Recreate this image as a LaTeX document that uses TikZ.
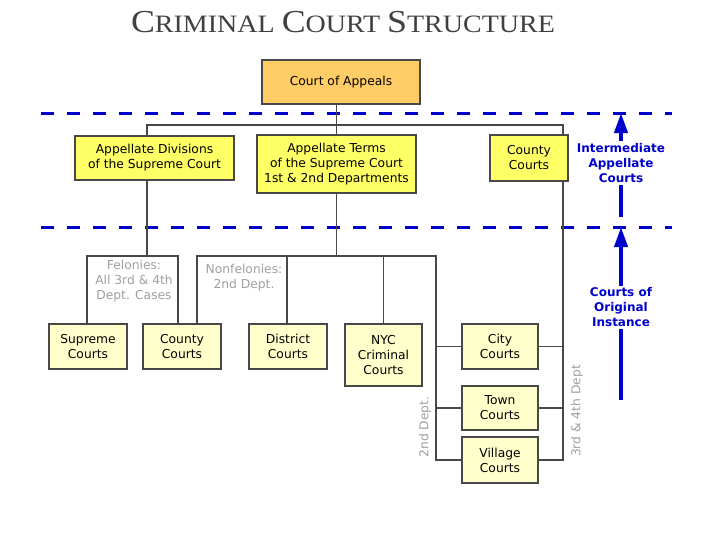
\documentclass[tikz,border=0pt]{standalone}
\usepackage{fontspec}
\setmainfont{DejaVu Sans}
\newfontfamily\titlefont{Liberation Serif}
\usetikzlibrary{arrows.meta}
\definecolor{orangebox}{HTML}{FFCC66}
\definecolor{yellowbox}{HTML}{FFFF66}
\definecolor{paleyellow}{HTML}{FFFFCC}
\definecolor{darkblue}{HTML}{0000CC}
\definecolor{linegray}{HTML}{484848}
\definecolor{labelgray}{HTML}{A0A0A0}
\tikzset{
  box/.style={draw=linegray, line width=1.3pt, align=center, inner sep=0pt,
    font=\fontsize{12.3}{15}\selectfont},
  upperbox/.style={box, fill=yellowbox},
  lowerbox/.style={box, fill=paleyellow},
  link/.style={draw=linegray, line width=1.3pt},
  dashline/.style={draw=darkblue, line width=3pt, dash pattern=on 13pt off 13pt},
  bluearrow/.style={draw=darkblue, line width=4pt, -{Triangle[width=13pt,length=20pt]}},
  bluelabel/.style={text=darkblue, font=\bfseries\fontsize{12}{15}\selectfont, align=center, fill=white, inner sep=2pt},
  graylabel/.style={text=labelgray, font=\fontsize{12.3}{15}\selectfont, align=center, inner sep=0pt}
}
\begin{document}
\begin{tikzpicture}[x=1pt,y=-1pt]
\useasboundingbox[fill=white] (0,0) rectangle (702,536);

% title
\node[text=black!75] (title) at (343,22) {\scalebox{1.12}[1]{\titlefont\fontsize{32}{32}\selectfont C\fontsize{25}{25}\selectfont RIMINAL \fontsize{32}{32}\selectfont C\fontsize{25}{25}\selectfont OURT \fontsize{32}{32}\selectfont S\fontsize{25}{25}\selectfont TRUCTURE}};

% dashed level lines
\coordinate (d1l) at (41,113); \coordinate (d1r) at (672,113);
\coordinate (d2l) at (41,227); \coordinate (d2r) at (672,227);
\draw[dashline] (d1l) -- (d1r);
\draw[dashline] (d2l) -- (d2r);

% junction coordinates
\coordinate (hj) at (563,125);
\coordinate (adt) at (147,125);
\coordinate (adb) at (147,256);
\coordinate (fl) at (87,256);
\coordinate (fr) at (178,256);
\coordinate (nl) at (197,256);
\coordinate (nr) at (436,256);

% node positions (boxes drawn after connectors)
\path (341,82) coordinate (ca)
      (336.5,164) coordinate (at)
      (154.5,158) coordinate (ad)
      (529,158) coordinate (cc1)
      (88,346.5) coordinate (sc)
      (182,346.5) coordinate (cc2)
      (288,346.5) coordinate (dc)
      (383.5,355) coordinate (nyc)
      (500,346.5) coordinate (city)
      (500,408) coordinate (town)
      (500,460) coordinate (village);

% boxes
\node[box, fill=orangebox, minimum width=158pt, minimum height=44pt] (ca) at (ca) {Court of Appeals};
\node[upperbox, minimum width=159pt, minimum height=58pt] (at) at (at) {Appellate Terms\\of the Supreme Court\\1st \& 2nd Departments};
\node[upperbox, minimum width=159pt, minimum height=44pt] (ad) at (ad) {Appellate Divisions\\of the Supreme Court};
\node[lowerbox, minimum width=78pt, minimum height=45pt] (sc) at (sc) {Supreme\\Courts};
\node[lowerbox, minimum width=78pt, minimum height=45pt] (cc2) at (cc2) {County\\Courts};
\node[lowerbox, minimum width=78pt, minimum height=45pt] (dc) at (dc) {District\\Courts};
\node[lowerbox, minimum width=77pt, minimum height=62pt] (nyc) at (nyc) {NYC\\Criminal\\Courts};
\node[lowerbox, minimum width=76pt, minimum height=45pt] (city) at (city) {City\\Courts};
\node[lowerbox, minimum width=76pt, minimum height=44pt] (town) at (town) {Town\\Courts};
\node[lowerbox, minimum width=76pt, minimum height=46pt] (village) at (village) {Village\\Courts};

% connectors
\draw[link] (ca.south -| at.north) -- (at.north);
\draw[link] (ad.north -| adt) -- (adt) -- (hj) -- (hj |- village.east) -- (village.east);
\draw[link] (city.east) -- (city.east -| hj);
\draw[link] (town.east) -- (town.east -| hj);
\draw[link] (ad.south -| adb) -- (adb);
\draw[link] (sc.north -| fl) -- (fl) -- (fr) -- (fr |- cc2.north);
\draw[link] (at.south) -- (at.south |- nr);
\draw[link] (cc2.north -| nl) -- (nl) -- (nr) -- (nr |- village.west) -- (village.west);
\draw[link] (dc.north) ++(-1,0) -- (287,256);
\draw[link] (nyc.north) -- (nyc.north |- nr);
\draw[link] (city.west) -- (city.west -| nr);
\draw[link] (town.west) -- (town.west -| nr);

% county courts (appellate) sits over the line to the right
\node[upperbox, minimum width=78pt, minimum height=46pt] (cc1) at (cc1) {County\\Courts};

% gray labels
\node[graylabel] (fel) at (134,281) {Felonies:\\All 3rd \& 4th\\Dept. Cases};
\node[graylabel] (nonfel) at (244,278) {Nonfelonies:\\2nd Dept.};
\node[graylabel, rotate=90] (d2) at (425,427) {2nd Dept.};
\node[graylabel, rotate=90] (d34) at (577,411) {3rd \& 4th Dept};

% blue arrows and level labels
\coordinate (a1s) at (621,217); \coordinate (a1e) at (621,113);
\coordinate (a2s) at (621,400); \coordinate (a2e) at (621,227);
\draw[bluearrow] (a1s) -- (a1e);
\draw[bluearrow] (a2s) -- (a2e);
\node[bluelabel] (ia) at (621,163) {Intermediate\\Appellate\\Courts};
\node[bluelabel] (oi) at (621,307.5) {Courts of\\Original\\Instance};
\end{tikzpicture}
\end{document}
